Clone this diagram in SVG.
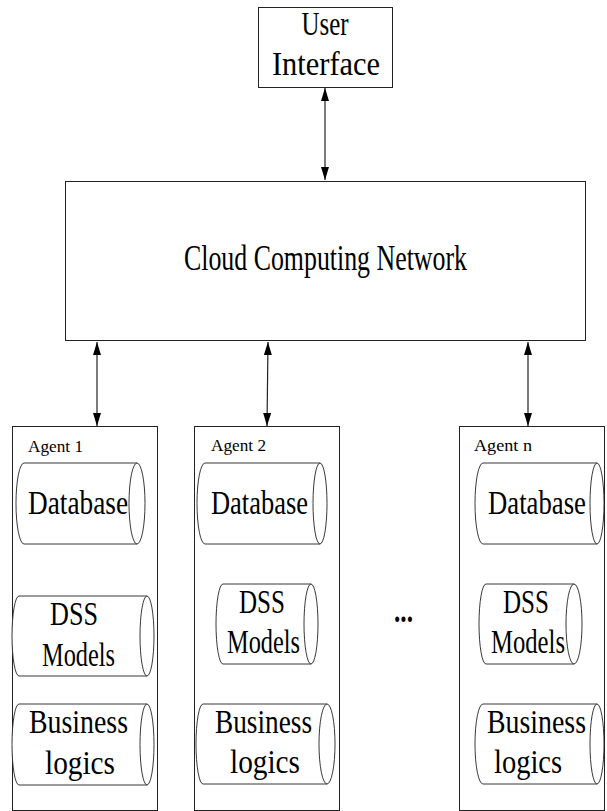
<svg xmlns="http://www.w3.org/2000/svg" width="607" height="811" viewBox="0 0 607 811">
<style>
.box{fill:#fff;stroke:#222;stroke-width:1}
.cyl{fill:#fff;stroke:#222;stroke-width:0.9}
.t{font-family:"Liberation Serif","DejaVu Serif",serif;font-size:34px;fill:#000;text-anchor:middle}
.a{font-family:"Liberation Serif","DejaVu Serif",serif;font-size:17px;fill:#000}
.c{stroke:#222;stroke-width:1.2;fill:none;marker-start:url(#ah);marker-end:url(#ah)}
</style>
<defs>
<marker id="ah" viewBox="0 0 13 8" refX="13" refY="4" markerWidth="13" markerHeight="8" markerUnits="userSpaceOnUse" orient="auto-start-reverse">
<path d="M0,0 L13,4 L0,8 Z" fill="#000"/>
</marker>
</defs>
<rect x="0" y="0" width="607" height="811" fill="#fff"/>

<g id="connectors">
<line class="c" x1="325" y1="88" x2="325" y2="180"/>
<line class="c" x1="97" y1="342" x2="97" y2="426"/>
<line class="c" x1="268" y1="342" x2="267" y2="426"/>
<line class="c" x1="528" y1="342" x2="528" y2="426"/>
</g>

<g id="user-interface">
<rect class="box" x="258.5" y="7.5" width="134" height="80"/>
<text class="t" x="325" y="35" textLength="47" lengthAdjust="spacingAndGlyphs">User</text>
<text class="t" x="326" y="75" textLength="108" lengthAdjust="spacingAndGlyphs">Interface</text>
</g>

<g id="cloud">
<rect class="box" x="65.5" y="181.5" width="520" height="159"/>
<text class="t" x="325.5" y="270" textLength="283" lengthAdjust="spacingAndGlyphs" style="font-size:35px">Cloud Computing Network</text>
</g>

<g id="agent1">
<rect class="box" x="12.5" y="426.5" width="145" height="384"/>
<text class="a" x="28" y="452" textLength="55" lengthAdjust="spacingAndGlyphs" fill="#333">Agent 1</text>
<g id="agent1-db">
<path class="cyl" d="M24,463 A8,40.5 0 0 0 24,544 L137,544 L137,463 Z"/>
<ellipse class="cyl" cx="137" cy="503.5" rx="8" ry="40.5"/>
<text class="t" x="78" y="514" textLength="100" lengthAdjust="spacingAndGlyphs">Database</text>
</g>
<g id="agent1-dss">
<path class="cyl" d="M19,596 A7,40 0 0 0 19,676 L147,676 L147,596 Z"/>
<ellipse class="cyl" cx="147" cy="636" rx="7" ry="40"/>
<text class="t" x="74" y="625" textLength="48" lengthAdjust="spacingAndGlyphs">DSS</text>
<text class="t" x="78.5" y="666" textLength="73" lengthAdjust="spacingAndGlyphs">Models</text>
</g>
<g id="agent1-bl">
<path class="cyl" d="M19,704 A7,40.5 0 0 0 19,785 L147,785 L147,704 Z"/>
<ellipse class="cyl" cx="147" cy="744.5" rx="7" ry="40.5"/>
<text class="t" x="78.5" y="733" textLength="99" lengthAdjust="spacingAndGlyphs">Business</text>
<text class="t" x="80" y="774" textLength="70" lengthAdjust="spacingAndGlyphs">logics</text>
</g>
</g>

<g id="agent2">
<rect class="box" x="194.5" y="426.5" width="145" height="384"/>
<text class="a" x="211" y="451" textLength="55" lengthAdjust="spacingAndGlyphs">Agent 2</text>
<g id="agent2-db">
<path class="cyl" d="M205,463 A8,40.5 0 0 0 205,544 L320,544 L320,463 Z"/>
<ellipse class="cyl" cx="320" cy="503.5" rx="7" ry="40.5"/>
<text class="t" x="259.5" y="514" textLength="97" lengthAdjust="spacingAndGlyphs">Database</text>
</g>
<g id="agent2-dss">
<path class="cyl" d="M223,584 A7,40 0 0 0 223,664 L311,664 L311,584 Z"/>
<ellipse class="cyl" cx="311" cy="624" rx="7" ry="40"/>
<text class="t" x="262" y="613" textLength="46" lengthAdjust="spacingAndGlyphs">DSS</text>
<text class="t" x="263.5" y="653" textLength="73" lengthAdjust="spacingAndGlyphs">Models</text>
</g>
<g id="agent2-bl">
<path class="cyl" d="M203,704 A7,40 0 0 0 203,784 L327,784 L327,704 Z"/>
<ellipse class="cyl" cx="327" cy="744" rx="8" ry="40"/>
<text class="t" x="263.5" y="733" textLength="97" lengthAdjust="spacingAndGlyphs">Business</text>
<text class="t" x="265" y="773" textLength="70" lengthAdjust="spacingAndGlyphs">logics</text>
</g>
</g>

<g id="ellipsis">
<text class="t" x="403.5" y="622" textLength="19" lengthAdjust="spacingAndGlyphs" style="font-weight:bold">...</text>
</g>

<g id="agentn">
<rect class="box" x="459.5" y="426.5" width="145" height="384"/>
<text class="a" x="474" y="451" textLength="58" lengthAdjust="spacingAndGlyphs">Agent n</text>
<g id="agentn-db">
<path class="cyl" d="M483,463 A8,40.5 0 0 0 483,544 L597,544 L597,463 Z"/>
<ellipse class="cyl" cx="597" cy="503.5" rx="7" ry="40.5"/>
<text class="t" x="537" y="514" textLength="98" lengthAdjust="spacingAndGlyphs">Database</text>
</g>
<g id="agentn-dss">
<path class="cyl" d="M486,584 A7,40 0 0 0 486,664 L574,664 L574,584 Z"/>
<ellipse class="cyl" cx="574" cy="624" rx="8" ry="40"/>
<text class="t" x="526" y="613" textLength="46" lengthAdjust="spacingAndGlyphs">DSS</text>
<text class="t" x="528" y="653" textLength="74" lengthAdjust="spacingAndGlyphs">Models</text>
</g>
<g id="agentn-bl">
<path class="cyl" d="M483,704 A8,40 0 0 0 483,784 L597,784 L597,704 Z"/>
<ellipse class="cyl" cx="597" cy="744" rx="7" ry="40"/>
<text class="t" x="536.5" y="733" textLength="99" lengthAdjust="spacingAndGlyphs">Business</text>
<text class="t" x="528" y="773" textLength="68" lengthAdjust="spacingAndGlyphs">logics</text>
</g>
</g>
</svg>
